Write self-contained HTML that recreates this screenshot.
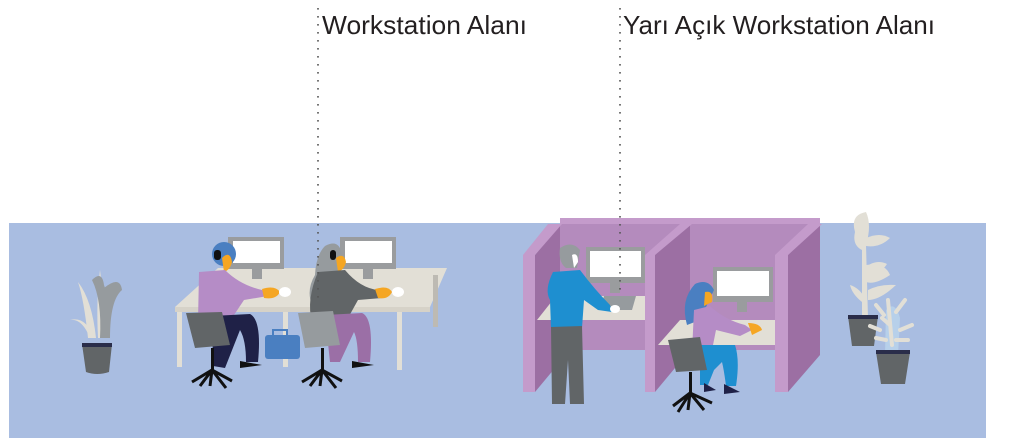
<!DOCTYPE html>
<html><head><meta charset="utf-8"><style>
html,body{margin:0;padding:0;background:#fff;}
svg{display:block;}
text{font-family:"Liberation Sans",Arial,sans-serif;fill:#231f20;}
</style></head><body>
<svg width="1024" height="444" viewBox="0 0 1024 444" xmlns="http://www.w3.org/2000/svg">
<rect x="9" y="223" width="977" height="215" fill="#a9bde1"/>

<!-- left plant -->
<g>
<path d="M78 282 Q84 300 88 338 L96 338 Q92 300 78 282Z" fill="#e2dfd6"/>
<path d="M100 270 Q96 300 98 338 L104 338 Q104 300 100 270Z" fill="#e2dfd6"/>
<path d="M92 280 Q102 300 100 338 L108 338 Q110 300 104 285 Q102 270 92 280Z" fill="#969b9e"/>
<path d="M104 288 Q120 275 122 290 Q110 300 110 338 L104 338Z" fill="#969b9e"/>
<path d="M70 320 Q82 318 90 338 L94 338 Q86 316 70 320Z" fill="#e2dfd6"/>
<path d="M82 344 L112 344 L109 372 Q97 376 86 372Z" fill="#616567"/>
<rect x="82" y="343" width="30" height="4" fill="#2a2d4a"/>
</g>

<!-- open workstation desk -->
<path d="M175 307 L218 268 L447 268 L430 307Z" fill="#e2dfd6"/>
<rect x="175" y="307" width="255" height="5" fill="#d6d2c8"/>
<rect x="177" y="312" width="5" height="55" fill="#e2dfd6"/>
<rect x="283" y="312" width="5" height="55" fill="#e2dfd6"/>
<rect x="397" y="312" width="5" height="58" fill="#e2dfd6"/>
<rect x="433" y="275" width="5" height="52" fill="#bdbab3"/>
<!-- monitors -->
<rect x="228" y="237" width="56" height="32" fill="#9a9c9e"/>
<rect x="233" y="241" width="47" height="22" fill="#fff"/>
<rect x="252" y="269" width="10" height="10" fill="#9a9c9e"/>
<rect x="340" y="237" width="56" height="32" fill="#9a9c9e"/>
<rect x="345" y="241" width="47" height="22" fill="#fff"/>
<rect x="363" y="269" width="10" height="10" fill="#9a9c9e"/>
<!-- bag -->
<rect x="265" y="335" width="35" height="24" rx="3" fill="#4a7fc1"/>
<rect x="273" y="330" width="14" height="6" fill="none" stroke="#4a7fc1" stroke-width="2"/>
<!-- person 1 -->
<circle cx="224" cy="254" r="12" fill="#4a7fc1"/>
<path d="M222 258 Q230 250 232 262 Q230 270 224 272 Z" fill="#f5a623"/>
<rect x="214" y="250" width="7" height="10" rx="3" fill="#111"/>
<path d="M199 272 L225 270 Q240 285 262 290 L268 296 L244 300 L232 318 Q215 328 198 322Z" fill="#b58cc6"/>
<path d="M262 289 Q275 285 280 292 Q276 300 264 298Z" fill="#f5a623"/>
<ellipse cx="285" cy="292" rx="6" ry="5" fill="#fff"/>
<path d="M212 316 L250 314 Q262 320 258 362 L246 362 Q246 340 240 330 L225 368 L213 366 Z" fill="#1f2147"/>
<path d="M240 361 L262 365 L240 368Z" fill="#111"/>
<!-- chair 1 -->
<path d="M186 313 L222 312 L230 345 L195 348Z" fill="#616567"/>
<rect x="211" y="348" width="3" height="22" fill="#111"/>
<path d="M192 382 L212 370 L232 381 M212 370 L210 386 M212 370 L200 386 M212 370 L226 388" stroke="#111" stroke-width="3" fill="none"/>
<!-- person 2 -->
<path d="M325 246 Q340 238 342 256 Q335 278 340 300 L312 305 Q306 290 315 275 Q316 255 325 246Z" fill="#969b9e"/>
<path d="M336 258 Q344 252 346 262 Q344 270 338 272Z" fill="#f5a623"/>
<rect x="330" y="250" width="6" height="10" rx="3" fill="#111"/>
<path d="M318 272 L345 270 Q360 288 378 290 L382 298 L358 300 L348 318 L312 322 Q306 300 318 272Z" fill="#616567"/>
<path d="M375 289 Q388 285 392 292 Q388 300 378 298Z" fill="#f5a623"/>
<ellipse cx="398" cy="292" rx="6" ry="5" fill="#fff"/>
<path d="M325 315 L362 313 Q374 318 370 362 L358 362 Q358 340 354 332 L340 362 L330 362Z" fill="#9b6fa6"/>
<path d="M352 361 L374 365 L352 368Z" fill="#111"/>
<!-- chair 2 -->
<path d="M298 313 L333 311 L340 345 L305 348Z" fill="#969b9e"/>
<rect x="321" y="348" width="3" height="22" fill="#111"/>
<path d="M302 382 L322 370 L342 381 M322 370 L320 386 M322 370 L310 386 M322 370 L336 388" stroke="#111" stroke-width="3" fill="none"/>

<!-- cubicles -->
<path d="M560 218 L820 218 L820 226 L560 226Z" fill="#c49bcb"/>
<rect x="560" y="224" width="260" height="126" fill="#b48bbd"/>
<!-- left panel -->
<path d="M535 255 L560 224 L560 362 L535 392Z" fill="#9c6fa3"/>
<path d="M523 255 L548 224 L562 224 L535 255Z" fill="#c49bcb"/>
<rect x="523" y="255" width="12" height="137" fill="#c49bcb"/>
<!-- desk 1 -->
<path d="M537 320 L556 296 L680 296 L655 320Z" fill="#e2dfd6"/>
<rect x="586" y="247" width="59" height="36" fill="#9a9c9e"/>
<rect x="590" y="251" width="51" height="26" fill="#fff"/>
<rect x="610" y="283" width="10" height="10" fill="#9a9c9e"/>
<path d="M604 296 L636 296 L632 310 L600 310Z" fill="#969b9e"/>
<!-- middle divider -->
<path d="M655 255 L690 224 L690 350 L655 392Z" fill="#9c6fa3"/>
<path d="M645 255 L680 224 L692 224 L655 255Z" fill="#c49bcb"/>
<rect x="645" y="255" width="10" height="137" fill="#c49bcb"/>
<!-- desk 2 -->
<path d="M658 345 L680 320 L775 320 L775 345Z" fill="#e2dfd6"/>
<rect x="713" y="267" width="60" height="35" fill="#9a9c9e"/>
<rect x="717" y="271" width="52" height="25" fill="#fff"/>
<rect x="737" y="302" width="10" height="10" fill="#9a9c9e"/>
<!-- right panel -->
<path d="M788 255 L820 224 L820 355 L788 392Z" fill="#9c6fa3"/>
<path d="M775 255 L808 224 L822 224 L788 255Z" fill="#c49bcb"/>
<rect x="775" y="255" width="13" height="137" fill="#c49bcb"/>

<!-- standing person -->
<path d="M560 248 Q572 240 580 250 L577 268 L566 268 Q558 262 560 248Z" fill="#969b9e"/>
<path d="M572 255 Q578 252 578 262 L574 268Z" fill="#fff"/>
<path d="M553 272 L580 270 Q595 290 610 305 L612 312 L598 310 L584 300 L582 328 L551 328 L550 300 Q544 290 553 272Z" fill="#1e8fd0"/>
<ellipse cx="615" cy="309" rx="5" ry="4" fill="#fff"/>
<path d="M551 327 L582 326 L584 404 L570 404 L568 360 L565 404 L552 404Z" fill="#616567"/>

<!-- sitting woman -->
<path d="M695 284 Q708 278 714 290 L700 320 L687 325 Q680 300 695 284Z" fill="#4a7fc1"/>
<path d="M705 292 Q714 290 712 302 L704 306Z" fill="#f5a623"/>
<path d="M694 310 L710 306 Q725 320 745 325 L752 330 L740 336 L716 330 L712 350 L692 352Z" fill="#b58cc6"/>
<path d="M748 323 Q760 323 762 330 L752 335Z" fill="#f5a623"/>
<path d="M700 345 L735 345 Q740 360 736 386 L726 386 Q724 370 722 362 L714 370 L708 385 L700 385Z" fill="#1e8fd0"/>
<path d="M724 384 L740 392 L724 394Z M704 383 L716 390 L704 392Z" fill="#1f2147"/>
<!-- chair 3 -->
<path d="M668 340 L700 337 L707 370 L676 372Z" fill="#616567"/>
<rect x="689" y="372" width="3" height="22" fill="#111"/>
<path d="M673 406 L690 393 L712 403 M690 393 L688 410 M690 393 L678 412 M690 393 L704 410" stroke="#111" stroke-width="3" fill="none"/>

<!-- right plants -->
<g>
<path d="M855 232 Q850 215 866 212 Q872 225 866 245 L868 318 L862 318 L862 250 Q852 245 855 232Z" fill="#e2dfd6"/>
<path d="M866 238 Q880 232 890 238 Q880 248 866 246Z" fill="#e2dfd6"/>
<path d="M862 270 Q875 258 887 264 Q880 275 864 278Z" fill="#e2dfd6"/>
<path d="M866 265 Q885 262 890 275 Q875 285 866 282Z" fill="#e2dfd6"/>
<path d="M850 285 Q860 288 866 300 L862 302 Q852 294 850 285Z" fill="#e2dfd6"/>
<path d="M868 290 Q880 284 896 285 Q880 300 868 300Z" fill="#e2dfd6"/>
<path d="M848 316 L878 316 L874 346 L852 346Z" fill="#616567"/>
<rect x="848" y="315" width="30" height="4" fill="#2a2d4a"/>
<path d="M886 310 Q895 300 900 318 L898 355 L885 355Z" fill="#b7d0ea"/>
<path d="M888 300 L892 345 M884 315 L876 305 M896 312 L905 300 M880 330 L870 326 M900 330 L912 325 M890 325 L882 318 M896 340 L908 340 M886 340 L876 338" stroke="#e2dfd6" stroke-width="4" stroke-linecap="round" fill="none"/>
<path d="M876 352 L910 352 L905 384 L881 384Z" fill="#616567"/>
<rect x="876" y="350" width="34" height="4" fill="#2a2d4a"/>
</g>

<!-- dotted lines -->
<line x1="318" y1="8" x2="318" y2="300" stroke="#555" stroke-width="1.6" stroke-dasharray="1.6 6.4"/>
<line x1="620" y1="8" x2="620" y2="290" stroke="#555" stroke-width="1.6" stroke-dasharray="1.6 6.4"/>

<text x="322" y="34" font-size="26" textLength="205" lengthAdjust="spacingAndGlyphs">Workstation Alanı</text>
<text x="623" y="34" font-size="26" textLength="312" lengthAdjust="spacingAndGlyphs">Yarı Açık Workstation Alanı</text>
</svg>
</body></html>
